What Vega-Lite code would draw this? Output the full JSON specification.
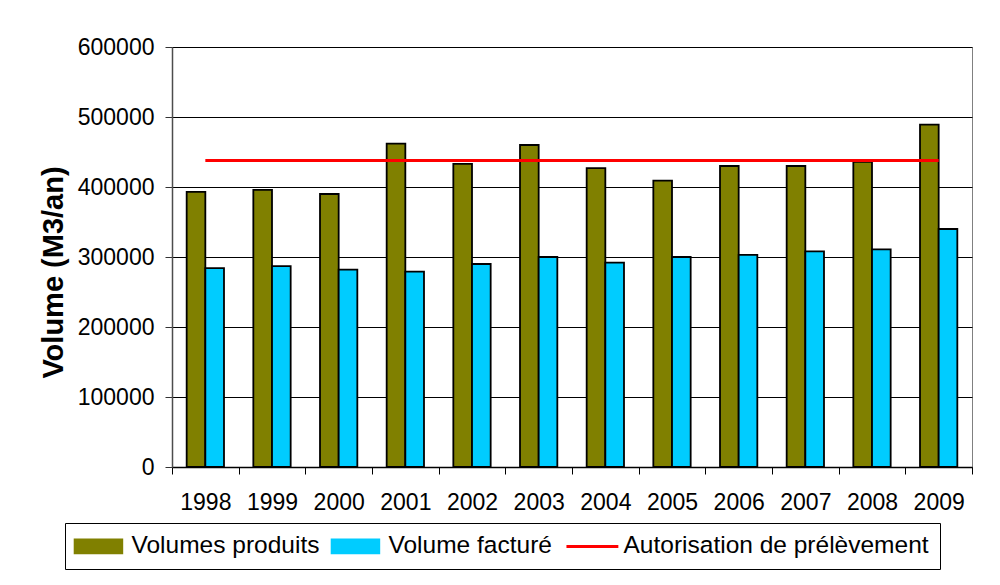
{
  "$schema": "https://vega.github.io/schema/vega-lite/v6.json",
  "width": 800,
  "height": 420,
  "autosize": {"type": "none"},
  "padding": {"left": 172, "top": 47, "right": 28, "bottom": 118},
  "background": "white",
  "config": {"font": "Liberation Sans", "view": {"stroke": "#808080", "strokeWidth": 1}},
  "data": {
    "values": [
      {"year": "1998", "series": "Volumes produits", "value": 393000},
      {"year": "1998", "series": "Volume facturé", "value": 284000},
      {"year": "1999", "series": "Volumes produits", "value": 396000},
      {"year": "1999", "series": "Volume facturé", "value": 287000},
      {"year": "2000", "series": "Volumes produits", "value": 390000},
      {"year": "2000", "series": "Volume facturé", "value": 282000},
      {"year": "2001", "series": "Volumes produits", "value": 462000},
      {"year": "2001", "series": "Volume facturé", "value": 279000},
      {"year": "2002", "series": "Volumes produits", "value": 433000},
      {"year": "2002", "series": "Volume facturé", "value": 290000},
      {"year": "2003", "series": "Volumes produits", "value": 460000},
      {"year": "2003", "series": "Volume facturé", "value": 300000},
      {"year": "2004", "series": "Volumes produits", "value": 427000},
      {"year": "2004", "series": "Volume facturé", "value": 292000},
      {"year": "2005", "series": "Volumes produits", "value": 409000},
      {"year": "2005", "series": "Volume facturé", "value": 300000},
      {"year": "2006", "series": "Volumes produits", "value": 430000},
      {"year": "2006", "series": "Volume facturé", "value": 303000},
      {"year": "2007", "series": "Volumes produits", "value": 430000},
      {"year": "2007", "series": "Volume facturé", "value": 308000},
      {"year": "2008", "series": "Volumes produits", "value": 436000},
      {"year": "2008", "series": "Volume facturé", "value": 311000},
      {"year": "2009", "series": "Volumes produits", "value": 489000},
      {"year": "2009", "series": "Volume facturé", "value": 340000},
      {"year": "1998", "series": "Autorisation de prélèvement", "value": 438000},
      {"year": "1999", "series": "Autorisation de prélèvement", "value": 438000},
      {"year": "2000", "series": "Autorisation de prélèvement", "value": 438000},
      {"year": "2001", "series": "Autorisation de prélèvement", "value": 438000},
      {"year": "2002", "series": "Autorisation de prélèvement", "value": 438000},
      {"year": "2003", "series": "Autorisation de prélèvement", "value": 438000},
      {"year": "2004", "series": "Autorisation de prélèvement", "value": 438000},
      {"year": "2005", "series": "Autorisation de prélèvement", "value": 438000},
      {"year": "2006", "series": "Autorisation de prélèvement", "value": 438000},
      {"year": "2007", "series": "Autorisation de prélèvement", "value": 438000},
      {"year": "2008", "series": "Autorisation de prélèvement", "value": 438000},
      {"year": "2009", "series": "Autorisation de prélèvement", "value": 438000}
    ]
  },
  "encoding": {
    "x": {
      "field": "year",
      "type": "ordinal",
      "scale": {"paddingInner": 0, "paddingOuter": 0},
      "axis": {
        "title": null,
        "labelAngle": 0,
        "labelFontSize": 23,
        "labelColor": "black",
        "labelPadding": 17,
        "tickSize": 7,
        "tickBand": "extent",
        "tickColor": "#000000",
        "domainColor": "#000000",
        "domainWidth": 1.5,
        "grid": false
      }
    }
  },
  "layer": [
    {
      "transform": [{"filter": "datum.series !== 'Autorisation de prélèvement'"}],
      "mark": {"type": "bar", "stroke": "black", "strokeWidth": 1.8},
      "encoding": {
        "xOffset": {
          "field": "series",
          "type": "nominal",
          "sort": ["Volumes produits", "Volume facturé"],
          "scale": {"paddingInner": 0, "paddingOuter": 0.786}
        },
        "y": {
          "field": "value",
          "type": "quantitative",
          "scale": {"domain": [0, 600000], "nice": false},
          "axis": {
            "title": "Volume (M3/an)",
            "titleFontSize": 29,
            "titleFontWeight": "bold",
            "titleColor": "black",
            "titlePadding": 9,
            "titleY": 225,
            "labelFontSize": 23,
            "labelColor": "black",
            "labelPadding": 11,
            "tickSize": 7,
            "tickColor": "#333333",
            "domainColor": "#4d4d4d",
            "domainWidth": 1.5,
            "gridColor": "#000000",
            "gridWidth": 1,
            "values": [0, 100000, 200000, 300000, 400000, 500000, 600000],
            "format": "d"
          }
        },
        "color": {
          "field": "series",
          "type": "nominal",
          "scale": {
            "domain": ["Volumes produits", "Volume facturé", "Autorisation de prélèvement"],
            "range": ["#808000", "#00CCFF", "#FF0000"]
          },
          "legend": {
            "orient": "none",
            "legendX": -107,
            "legendY": 476,
            "direction": "horizontal",
            "title": null,
            "labelFontSize": 24.5,
            "labelColor": "black",
            "labelLimit": 500,
            "symbolSize": 900,
            "labelOffset": 31,
            "columnPadding": 8,
            "padding": 11,
            "strokeColor": "black",
            "fillColor": "white",
            "encoding": {
              "symbols": {
                "shape": {"value": {"expr": "datum.value === 'Autorisation de prélèvement' ? 'M-0.92,0H2.54' : 'M-0.92,-0.467H2.28V0.467H-0.92Z'"}},
                "fill": {"value": {"expr": "datum.value === 'Volumes produits' ? '#808000' : (datum.value === 'Volume facturé' ? '#00CCFF' : 'transparent')"}},
                "stroke": {"value": {"expr": "datum.value === 'Autorisation de prélèvement' ? '#FF0000' : '#000000'"}},
                "strokeWidth": {"value": {"expr": "datum.value === 'Autorisation de prélèvement' ? 3 : 1.5"}},
                "opacity": {"value": 1}
              }
            }
          }
        }
      }
    },
    {
      "transform": [{"filter": "datum.series === 'Autorisation de prélèvement'"}],
      "mark": {"type": "line", "strokeWidth": 3},
      "encoding": {
        "y": {"field": "value", "type": "quantitative"},
        "color": {"field": "series", "type": "nominal", "legend": null}
      }
    }
  ]
}
